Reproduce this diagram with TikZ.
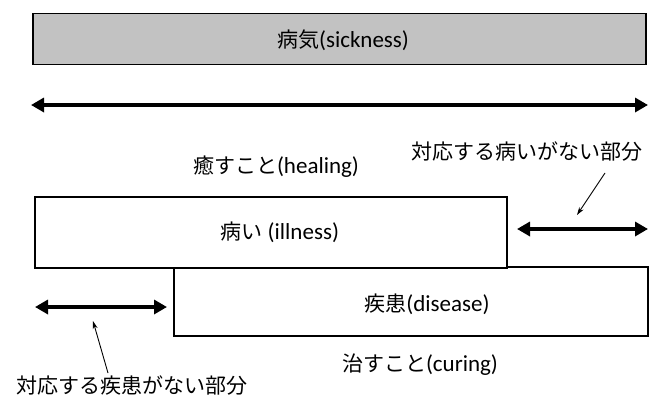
\documentclass[tikz,border=0pt]{standalone}
\usepackage{fontspec}
\setmainfont{Carlito}
\newfontfamily\cjk{Noto Sans CJK JP}
\newcommand\lat[1]{{\fontsize{23}{26}\selectfont #1}}
\usetikzlibrary{arrows.meta}
\tikzset{
  box/.style={draw=black, line width=1.6pt, fill=white, inner sep=0pt},
  lbl/.style={inner sep=0pt, font=\fontsize{21}{25}\selectfont},
  bigarrow/.style={line width=3.3pt, {Triangle[length=13pt,width=14pt]}-{Triangle[length=13pt,width=14pt]}},
  pointer/.style={line width=0.9pt, -{Stealth[length=8pt,width=5pt]}}
}
\begin{document}
\begin{tikzpicture}[x=1pt,y=-1pt]
\useasboundingbox (0,0) rectangle (655,402);
% top sickness box
\node[box, fill=black!24, minimum width=613pt, minimum height=51pt] (sick) at (339.5,39) {};
\node[lbl] (sickt) at (343,40) {{\cjk 病気}\lat{(sickness)}};
% big arrow
\coordinate (bl) at (31,105);
\coordinate (br) at (648,105);
\draw[bigarrow] (bl) -- (br);
% labels
\node[lbl] (heal) at (276,167) {{\cjk 癒すこと}\lat{(healing)}};
\node[lbl] (noill) at (527,152) {\cjk 対応する病いがない部分};
% disease box (drawn first, illness box overlaps)
\node[box, minimum width=474pt, minimum height=69pt] (dis) at (411,301.5) {};
\node[box, minimum width=472pt, minimum height=71pt] (ill) at (271,232.5) {};
\node[lbl] (illt) at (280,232) {{\cjk 病い} \lat{(illness)}};
\node[lbl] (dist) at (427,304) {{\cjk 疾患}\lat{(disease)}};
\node[lbl] (cure) at (420,365) {{\cjk 治すこと}\lat{(curing)}};
\node[lbl] (nodis) at (132,386) {\cjk 対応する疾患がない部分};
% small arrows
\coordinate (ra1) at (517,229);
\coordinate (ra2) at (648,229);
\draw[bigarrow] (ra1) -- (ra2);
\coordinate (la1) at (35,307);
\coordinate (la2) at (167,307);
\draw[bigarrow] (la1) -- (la2);
% pointers
\coordinate (p1s) at (605,173);
\coordinate (p1e) at (577,215);
\draw[pointer] (p1s) -- (p1e);
\coordinate (p2s) at (108,373);
\coordinate (p2e) at (93,321);
\draw[pointer] (p2s) -- (p2e);
\end{tikzpicture}
\end{document}
